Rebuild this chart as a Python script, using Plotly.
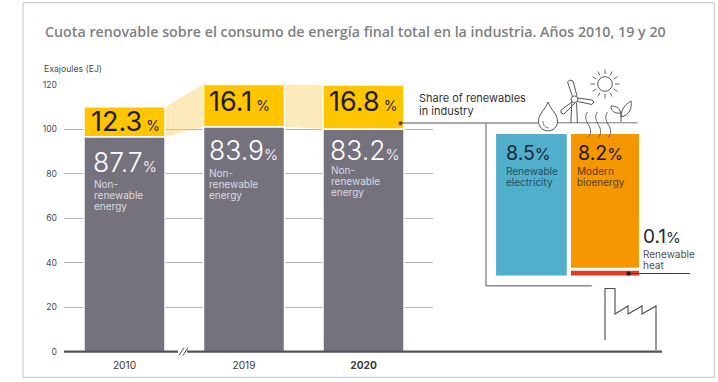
import math
import plotly.graph_objects as go

# ---- data ----
years = ["2010", "2019", "<b>2020</b>"]
nonrenewable_ej = [96.5, 101.0, 100.0]
renewable_ej = [13.5, 19.0, 19.8]
renewable_pct = ["12.3", "16.1", "16.8"]
nonrenewable_pct = ["87.7", "83.9", "83.2"]
y_ticks = [0, 20, 40, 60, 80, 100, 120]
breakdown_names = ["Renewable electricity", "Modern bioenergy", "Renewable heat"]
breakdown_pct = ["8.5", "8.2", "0.1"]
breakdown_heights = [8.5, 8.02, 0.3]   # drawn heights (the heat strip is not to scale)
breakdown_bases = [0, 0.48, 0]

W, H = 718, 382
FONT = "Inter"
YEL, GREY, BLUE, ORANGE, RED = "#FFC600", "#75717D", "#52AFCB", "#F49700", "#DE3E21"
LINE = "#4a4a52"


def px(x):
    return x / W


def py(y):
    return 1 - y / H


# main axis calibration (pixels)
X0, X1 = 64, 433
C0, STEP = 124.5, 119.5
BAR_W = 81 / STEP

fig = go.Figure()
xs = [0, 1, 2]
tops = [a + b for a, b in zip(nonrenewable_ej, renewable_ej)]

fig.add_bar(x=xs, y=nonrenewable_ej, width=BAR_W, marker=dict(color=GREY, line=dict(color="white", width=1.5)),
            name="Non-renewable energy", showlegend=False)
fig.add_bar(x=xs, y=renewable_ej, base=nonrenewable_ej, width=BAR_W,
            marker=dict(color=YEL, line=dict(color="white", width=1.5)), name="Renewables", showlegend=False)
for i in (0, 1):
    l, r = i + BAR_W / 2 + 0.004, i + 1 - BAR_W / 2 - 0.004
    fig.add_scatter(x=[l, r, r, l], y=[tops[i], tops[i + 1], nonrenewable_ej[i + 1], nonrenewable_ej[i]],
                    fill="toself", fillcolor="rgba(251,205,90,0.42)", mode="none",
                    showlegend=False, hoverinfo="skip")

# right panel bars
bx = [0, 1, 1]
bw = [70.7 / 73.6, 68 / 73.6, 68 / 73.6]
bc = [BLUE, ORANGE, RED]
for i in range(3):
    fig.add_bar(x=[bx[i]], y=[breakdown_heights[i]], base=[breakdown_bases[i]], width=[bw[i]],
                marker=dict(color=bc[i], line=dict(width=0)), xaxis="x2", yaxis="y2",
                name=breakdown_names[i], showlegend=False)

shapes = []


def seg(x0, y0, x1, y1, color=LINE, width=1.0):
    shapes.append(dict(type="line", xref="paper", yref="paper", x0=px(x0), y0=py(y0), x1=px(x1), y1=py(y1),
                       line=dict(color=color, width=width)))


def poly(points, color=LINE, width=1.0, closed=False, fill=None):
    d = "M " + " L ".join(f"{px(a):.5f} {py(b):.5f}" for a, b in points) + (" Z" if closed else "")
    shapes.append(dict(type="path", xref="paper", yref="paper", path=d, line=dict(color=color, width=width),
                       fillcolor=fill or "rgba(0,0,0,0)"))


def curve(d_pts, color=LINE, width=1.0, fill=None):
    d = " ".join(c + " " + " ".join(f"{px(a):.5f} {py(b):.5f}" for a, b in p) for c, p in d_pts)
    shapes.append(dict(type="path", xref="paper", yref="paper", path=d, line=dict(color=color, width=width),
                       fillcolor=fill or "rgba(0,0,0,0)"))


def circle(cx, cy, r, color=LINE, width=1.0, fill=None):
    shapes.append(dict(type="circle", xref="paper", yref="paper", x0=px(cx - r), x1=px(cx + r),
                       y0=py(cy + r), y1=py(cy - r), line=dict(color=color, width=width),
                       fillcolor=fill or "rgba(0,0,0,0)"))


# frame
poly([(23, 2.7), (714.3, 2.7), (714.3, 377.3), (23, 377.3)], "#c4c4c4", 1.0, closed=True)

# baseline with axis break
seg(64, 351.7, 178, 351.7, "#55525a", 2.2)
seg(187, 351.7, 662, 351.7, "#55525a", 2.2)
seg(179, 355.5, 184, 347.5, "#55525a", 1)
seg(183, 355.5, 188, 347.5, "#55525a", 1)

# connector from the 2020 bar to the breakdown
seg(400, 123, 538, 123, "#55525a", 1)
seg(557, 122.8, 637.7, 122.8, "#77777a", 1)
circle(400.5, 123.3, 1.8, "#4a4a40", 0.5, "#4a4a40")
poly([(486, 123), (486, 285.7), (591.7, 285.7)], "#8b8b8b", 1.4)

# heat leader
seg(628.7, 273.5, 690, 273.5, "#3f3f3f", 1)
circle(628.7, 273.5, 2, "#222222", 0.5, "#222222")

# factory
poly([(605, 340), (605, 288.5), (615, 288.5), (615, 314), (628, 306), (628, 314), (642, 306), (642, 314),
      (656, 306), (656, 350)], "#4a4a55", 1.1)

# drop
curve([("M", [(548, 102)]), ("C", [(545, 110), (538.5, 114), (538.5, 121)]),
       ("C", [(538.5, 134), (557.5, 134), (557.5, 121)]), ("C", [(557.5, 114), (551, 110), (548, 102)])],
      "#55555c", 1, "white")
curve([("M", [(543, 121)]), ("C", [(543, 126), (546, 128), (549, 128)])], "#55555c", 0.8)

# wind turbine
poly([(571.8, 103), (570.8, 123)], "#55555c", 1)
poly([(576.6, 103), (577.4, 123)], "#55555c", 1)
circle(574.5, 99.3, 3.4, "#55555c", 1, "white")
poly([(572.5, 96.5), (567.5, 82), (570, 80), (573, 81), (577, 96)], "#55555c", 1)
poly([(577.5, 98), (592, 100), (594, 102), (592, 104.5), (577.5, 101.5)], "#55555c", 1)
poly([(572, 102), (561, 110), (561, 113), (564, 114), (575, 103)], "#55555c", 1)

# sun with rays
circle(605, 84, 7.3, "#55555c", 1)
for k in range(12):
    a = 2 * math.pi * k / 12
    seg(605 + 10 * math.cos(a), 84 + 10 * math.sin(a), 605 + 14.5 * math.cos(a), 84 + 14.5 * math.sin(a), "#55555c", 0.9)

# heat waves
for dx in (0, 10, 20):
    curve([("M", [(587.5 + dx, 112)]), ("C", [(583 + dx, 118), (588 + dx, 123), (590 + dx, 128)]),
           ("C", [(591.5 + dx, 132), (590.5 + dx, 135), (588 + dx, 137.5)])], "#55555c", 0.9)

# plant
seg(621, 122, 621, 112, "#55555c", 1)
curve([("M", [(621, 117)]), ("C", [(621, 107), (628, 103), (631, 101)]),
       ("C", [(632, 108), (630, 115), (621, 117)])], "#55555c", 1)
curve([("M", [(621, 113)]), ("C", [(620, 108), (616, 106), (611, 106)]),
       ("C", [(611, 111), (615, 114), (621, 113)])], "#55555c", 1)

annotations = []


def label(x, y, text, size, color, weight=400, family=FONT, anchor="left"):
    annotations.append(dict(xref="paper", yref="paper", x=px(x), y=py(y), text=text, showarrow=False, xanchor=anchor,
                            yanchor="middle", align="left", borderpad=0, borderwidth=0,
                            font=dict(family=family, size=size, color=color, weight=weight)))


def lines(x, y, texts, step, size, color, weight=400):
    for k, t in enumerate(texts):
        label(x, y + k * step, t, size, color, weight)


def pct(v, size, gap=""):
    return f'{v}<span style="font-size:{size}px">{gap}%</span>'


label(45, 31, "Cuota renovable sobre el consumo de energía final total en la industria. Años 2010, 19 y 20",
      14.25, "#7f7f7f", 600, "Open Sans")
label(44.3, 69, "Exajoules (EJ)", 8.7, "#4a4a4a")

yel_x = [91, 209, 329]
yel_y = [121.2, 101.2, 101.2]
grey_x = [93, 209, 330]
grey_y = [162, 150, 149.5]
sub_x = [94, 209.5, 331]
sub_y = [183.5, 172.7, 170]
for i in range(3):
    label(yel_x[i], yel_y[i], pct(renewable_pct[i], 14, " "), 27, "#1f1c12", 400)
    label(grey_x[i], grey_y[i], pct(nonrenewable_pct[i], 15), 26.5, "#ffffff", 300)
    lines(sub_x[i], sub_y[i], ["Non-", "renewable", "energy"], 11, 10, "#dcdbe0", 400)

lines(419, 98, ["Share of renewables", "in industry"], 13, 11, "#333333")
label(505.5, 153, pct(breakdown_pct[0], 16), 19.5, "#13283a", 400)
lines(505.5, 170.7, ["Renewable", "electricity"], 11, 10, "#20505f")
label(577.5, 153, pct(breakdown_pct[1], 16), 19.5, "#1c1404", 400)
lines(577, 170.7, ["Modern", "bioenergy"], 11, 10, "#5c3a00")
label(643, 236.7, pct(breakdown_pct[2], 15), 19, "#222a33", 400)
lines(642.5, 254, ["Renewable", "heat"], 11.3, 10, "#4f4f4f")

fig.update_layout(
    width=W, height=H, margin=dict(l=0, r=0, t=0, b=0, pad=0, autoexpand=False), paper_bgcolor="white",
    plot_bgcolor="rgba(0,0,0,0)",
    barmode="overlay", showlegend=False, shapes=shapes, annotations=annotations, font=dict(family=FONT),
    xaxis=dict(domain=[px(X0), px(X1)], range=[(X0 - C0) / STEP, (X1 - C0) / STEP], tickmode="array", tickvals=xs,
               ticktext=years, showgrid=False, zeroline=False, showline=False, ticks="", automargin=False,
               tickfont=dict(family=FONT, size=10.2, color="#3c3c3c"), ticklabelstandoff=6),
    yaxis=dict(domain=[py(351.7), py(84.5)], range=[0, 120], tickmode="array", tickvals=y_ticks,
               showgrid=True, gridcolor="#b4b4b4", gridwidth=1, zeroline=False, showline=False, ticks="",
               automargin=False, tickfont=dict(family=FONT, size=8.6, color="#4a4a4a"), ticklabelstandoff=6),
    xaxis2=dict(domain=[px(490), px(645)], range=[(490 - 531.4) / 73.6, (645 - 531.4) / 73.6], visible=False,
                anchor="y2", automargin=False),
    yaxis2=dict(domain=[py(275.7), py(134)], range=[0, 8.5], visible=False, anchor="x2", automargin=False),
)

fig.write_html("out.html", config={"displayModeBar": False},
               post_script="document.body.style.margin='0';document.body.style.overflow='hidden';")
